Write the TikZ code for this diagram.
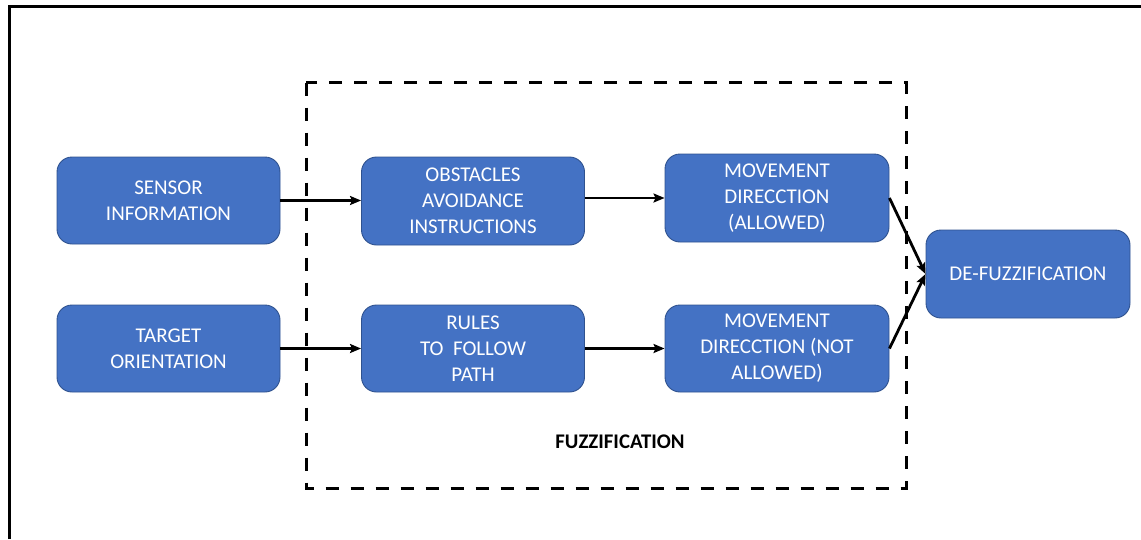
\documentclass[tikz,border=0pt]{standalone}
\usepackage{fontspec}
\setmainfont{Carlito}
\usetikzlibrary{arrows.meta}
\definecolor{boxblue}{HTML}{4472C4}
\definecolor{boxedge}{HTML}{2F528F}
\tikzset{
  blk/.style={draw=boxedge, line width=0.9pt, fill=boxblue, rounded corners=15pt,
    text=white, align=center, inner sep=0pt,
    font=\fontsize{21}{26}\selectfont},
  conn/.style={line width=2.8pt, -{Stealth[length=11pt,width=9pt,inset=2pt]}},
  frameline/.style={line width=3pt},
  fuzzbox/.style={line width=3pt, dash pattern=on 13pt off 12pt}
}
\begin{document}
\begin{tikzpicture}[x=1pt,y=-1pt]
\useasboundingbox (0,0) rectangle (1141,539);
\draw[frameline] (9,539) -- (9,6.5) -- (1141,6.5);
\draw[fuzzbox] (306,82.5) rectangle (906,488);
\node[blk, minimum width=223pt, minimum height=87pt] (sens) at (168.5,200.5) {SENSOR\\INFORMATION};
\node[blk, minimum width=223pt, minimum height=87pt] (targ) at (168.5,348.5) {TARGET\\ORIENTATION};
\node[blk, minimum width=223pt, minimum height=88pt] (obst) at (473,201) {OBSTACLES\\AVOIDANCE\\INSTRUCTIONS};
\node[blk, minimum width=223pt, minimum height=87pt] (rule) at (473,348.5) {RULES\\TO\ \ FOLLOW\\PATH};
\node[blk, minimum width=224pt, minimum height=88pt] (mova) at (777,198) {MOVEMENT\\DIRECCTION\\(ALLOWED)};
\node[blk, minimum width=224pt, minimum height=87pt] (movn) at (777,348.5) {MOVEMENT\\DIRECCTION (NOT\\ALLOWED)};
\node[blk, minimum width=204pt, minimum height=88pt] (defz) at (1028,274) {DE-FUZZIFICATION};
\node[font=\fontsize{20.8}{24}\selectfont\bfseries, inner sep=0pt] (fuzz) at (620,442) {FUZZIFICATION};
\draw[conn] (sens.east) -- (obst.west |- sens.east);
\draw[conn] (targ.east) -- (rule.west |- targ.east);
\draw[conn] (obst.east |- mova.west) -- (mova.west);
\draw[conn] (rule.east) -- (movn.west);
\draw[conn] (mova.east) -- (defz.west);
\draw[conn] (movn.east) -- (defz.west);
\end{tikzpicture}
\end{document}
